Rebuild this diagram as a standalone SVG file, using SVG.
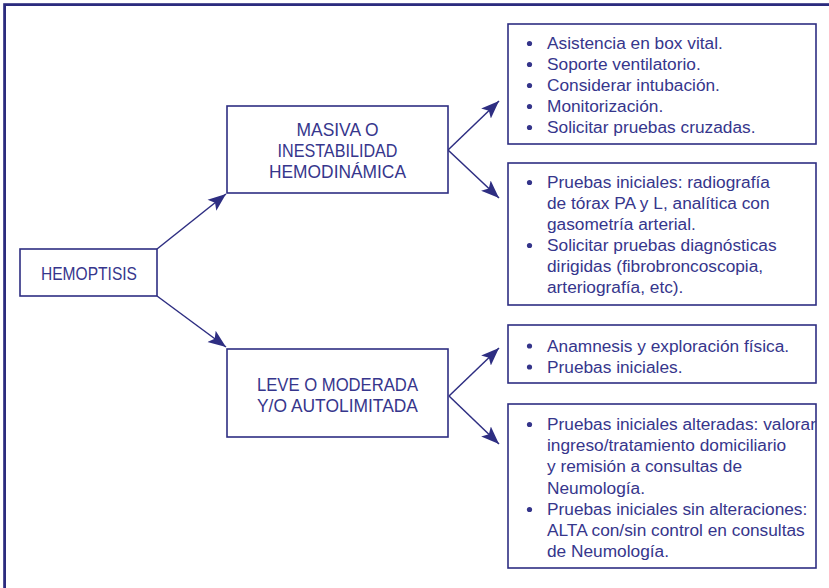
<svg xmlns="http://www.w3.org/2000/svg" width="829" height="588" viewBox="0 0 829 588">
<defs>
<style>
.frame{fill:none;stroke:#2b2b7e;stroke-width:2.8}
.box{fill:#ffffff;stroke:#2e2e82;stroke-width:1.6}
.conn{fill:none;stroke:#2e2e82;stroke-width:1.5}
.t{font-family:"Liberation Sans",Arial,sans-serif;font-size:17.3px;fill:#36368c}
.cap{font-size:18.5px}
.c{text-anchor:middle}
.dot{fill:#34348a}
</style>
<marker id="arr" markerUnits="userSpaceOnUse" markerWidth="20" markerHeight="16" viewBox="0 0 20 16" refX="18" refY="8" orient="auto">
<path d="M0,1 L18,8 L0,15 L4,8 Z" fill="#2e2e82"/>
</marker>
</defs>
<rect width="829" height="588" fill="#ffffff"/>
<rect class="frame" x="4.6" y="4.6" width="840" height="600"/>

<g id="connectors">
<line class="conn" x1="157" y1="249" x2="226" y2="194" marker-end="url(#arr)"/>
<line class="conn" x1="157" y1="296" x2="226" y2="347" marker-end="url(#arr)"/>
<line class="conn" x1="448" y1="150" x2="499" y2="101" marker-end="url(#arr)"/>
<line class="conn" x1="448" y1="150" x2="499" y2="198" marker-end="url(#arr)"/>
<line class="conn" x1="449" y1="396" x2="499" y2="348" marker-end="url(#arr)"/>
<line class="conn" x1="449" y1="396" x2="499" y2="444" marker-end="url(#arr)"/>
</g>

<g id="hemoptisis">
<rect class="box" x="20" y="249" width="137" height="47"/>
<text class="t cap c" x="89" y="280" textLength="96" lengthAdjust="spacingAndGlyphs">HEMOPTISIS</text>
</g>

<g id="masiva">
<rect class="box" x="227" y="106" width="221" height="87"/>
<text class="t cap c" x="337.5" y="136" textLength="82" lengthAdjust="spacingAndGlyphs">MASIVA O</text>
<text class="t cap c" x="337.5" y="157" textLength="120" lengthAdjust="spacingAndGlyphs">INESTABILIDAD</text>
<text class="t cap c" x="337.5" y="178" textLength="137" lengthAdjust="spacingAndGlyphs">HEMODINÁMICA</text>
</g>

<g id="leve">
<rect class="box" x="227" y="349" width="221" height="88"/>
<text class="t cap c" x="337.5" y="391" textLength="161" lengthAdjust="spacingAndGlyphs">LEVE O MODERADA</text>
<text class="t cap c" x="337.5" y="412" textLength="161" lengthAdjust="spacingAndGlyphs">Y/O AUTOLIMITADA</text>
</g>

<g id="box-masiva-1">
<rect class="box" x="508" y="24" width="308" height="120"/>
<circle class="dot" cx="529.5" cy="43.5" r="2.6"/>
<circle class="dot" cx="529.5" cy="64.5" r="2.6"/>
<circle class="dot" cx="529.5" cy="85.5" r="2.6"/>
<circle class="dot" cx="529.5" cy="106.5" r="2.6"/>
<circle class="dot" cx="529.5" cy="127.5" r="2.6"/>
<text class="t" x="547" y="49">Asistencia en box vital.</text>
<text class="t" x="547" y="70">Soporte ventilatorio.</text>
<text class="t" x="547" y="91">Considerar intubación.</text>
<text class="t" x="547" y="112">Monitorización.</text>
<text class="t" x="547" y="133">Solicitar pruebas cruzadas.</text>
</g>

<g id="box-masiva-2">
<rect class="box" x="508" y="163" width="308" height="142"/>
<circle class="dot" cx="529.5" cy="182.5" r="2.6"/>
<circle class="dot" cx="529.5" cy="245.5" r="2.6"/>
<text class="t" x="547" y="188">Pruebas iniciales: radiografía</text>
<text class="t" x="547" y="209">de tórax PA y L, analítica con</text>
<text class="t" x="547" y="230">gasometría arterial.</text>
<text class="t" x="547" y="251">Solicitar pruebas diagnósticas</text>
<text class="t" x="547" y="272">dirigidas (fibrobroncoscopia,</text>
<text class="t" x="547" y="293">arteriografía, etc).</text>
</g>

<g id="box-leve-1">
<rect class="box" x="508" y="325" width="308" height="58"/>
<circle class="dot" cx="529.5" cy="346" r="2.6"/>
<circle class="dot" cx="529.5" cy="367" r="2.6"/>
<text class="t" x="547" y="352">Anamnesis y exploración física.</text>
<text class="t" x="547" y="373">Pruebas iniciales.</text>
</g>

<g id="box-leve-2">
<rect class="box" x="508" y="404" width="308" height="164"/>
<circle class="dot" cx="529.5" cy="424.5" r="2.6"/>
<circle class="dot" cx="529.5" cy="509.5" r="2.6"/>
<text class="t" x="547" y="430">Pruebas iniciales alteradas: valorar</text>
<text class="t" x="547" y="451">ingreso/tratamiento domiciliario</text>
<text class="t" x="547" y="472">y remisión a consultas de</text>
<text class="t" x="547" y="494">Neumología.</text>
<text class="t" x="547" y="515">Pruebas iniciales sin alteraciones:</text>
<text class="t" x="547" y="536">ALTA con/sin control en consultas</text>
<text class="t" x="547" y="557">de Neumología.</text>
</g>
</svg>
